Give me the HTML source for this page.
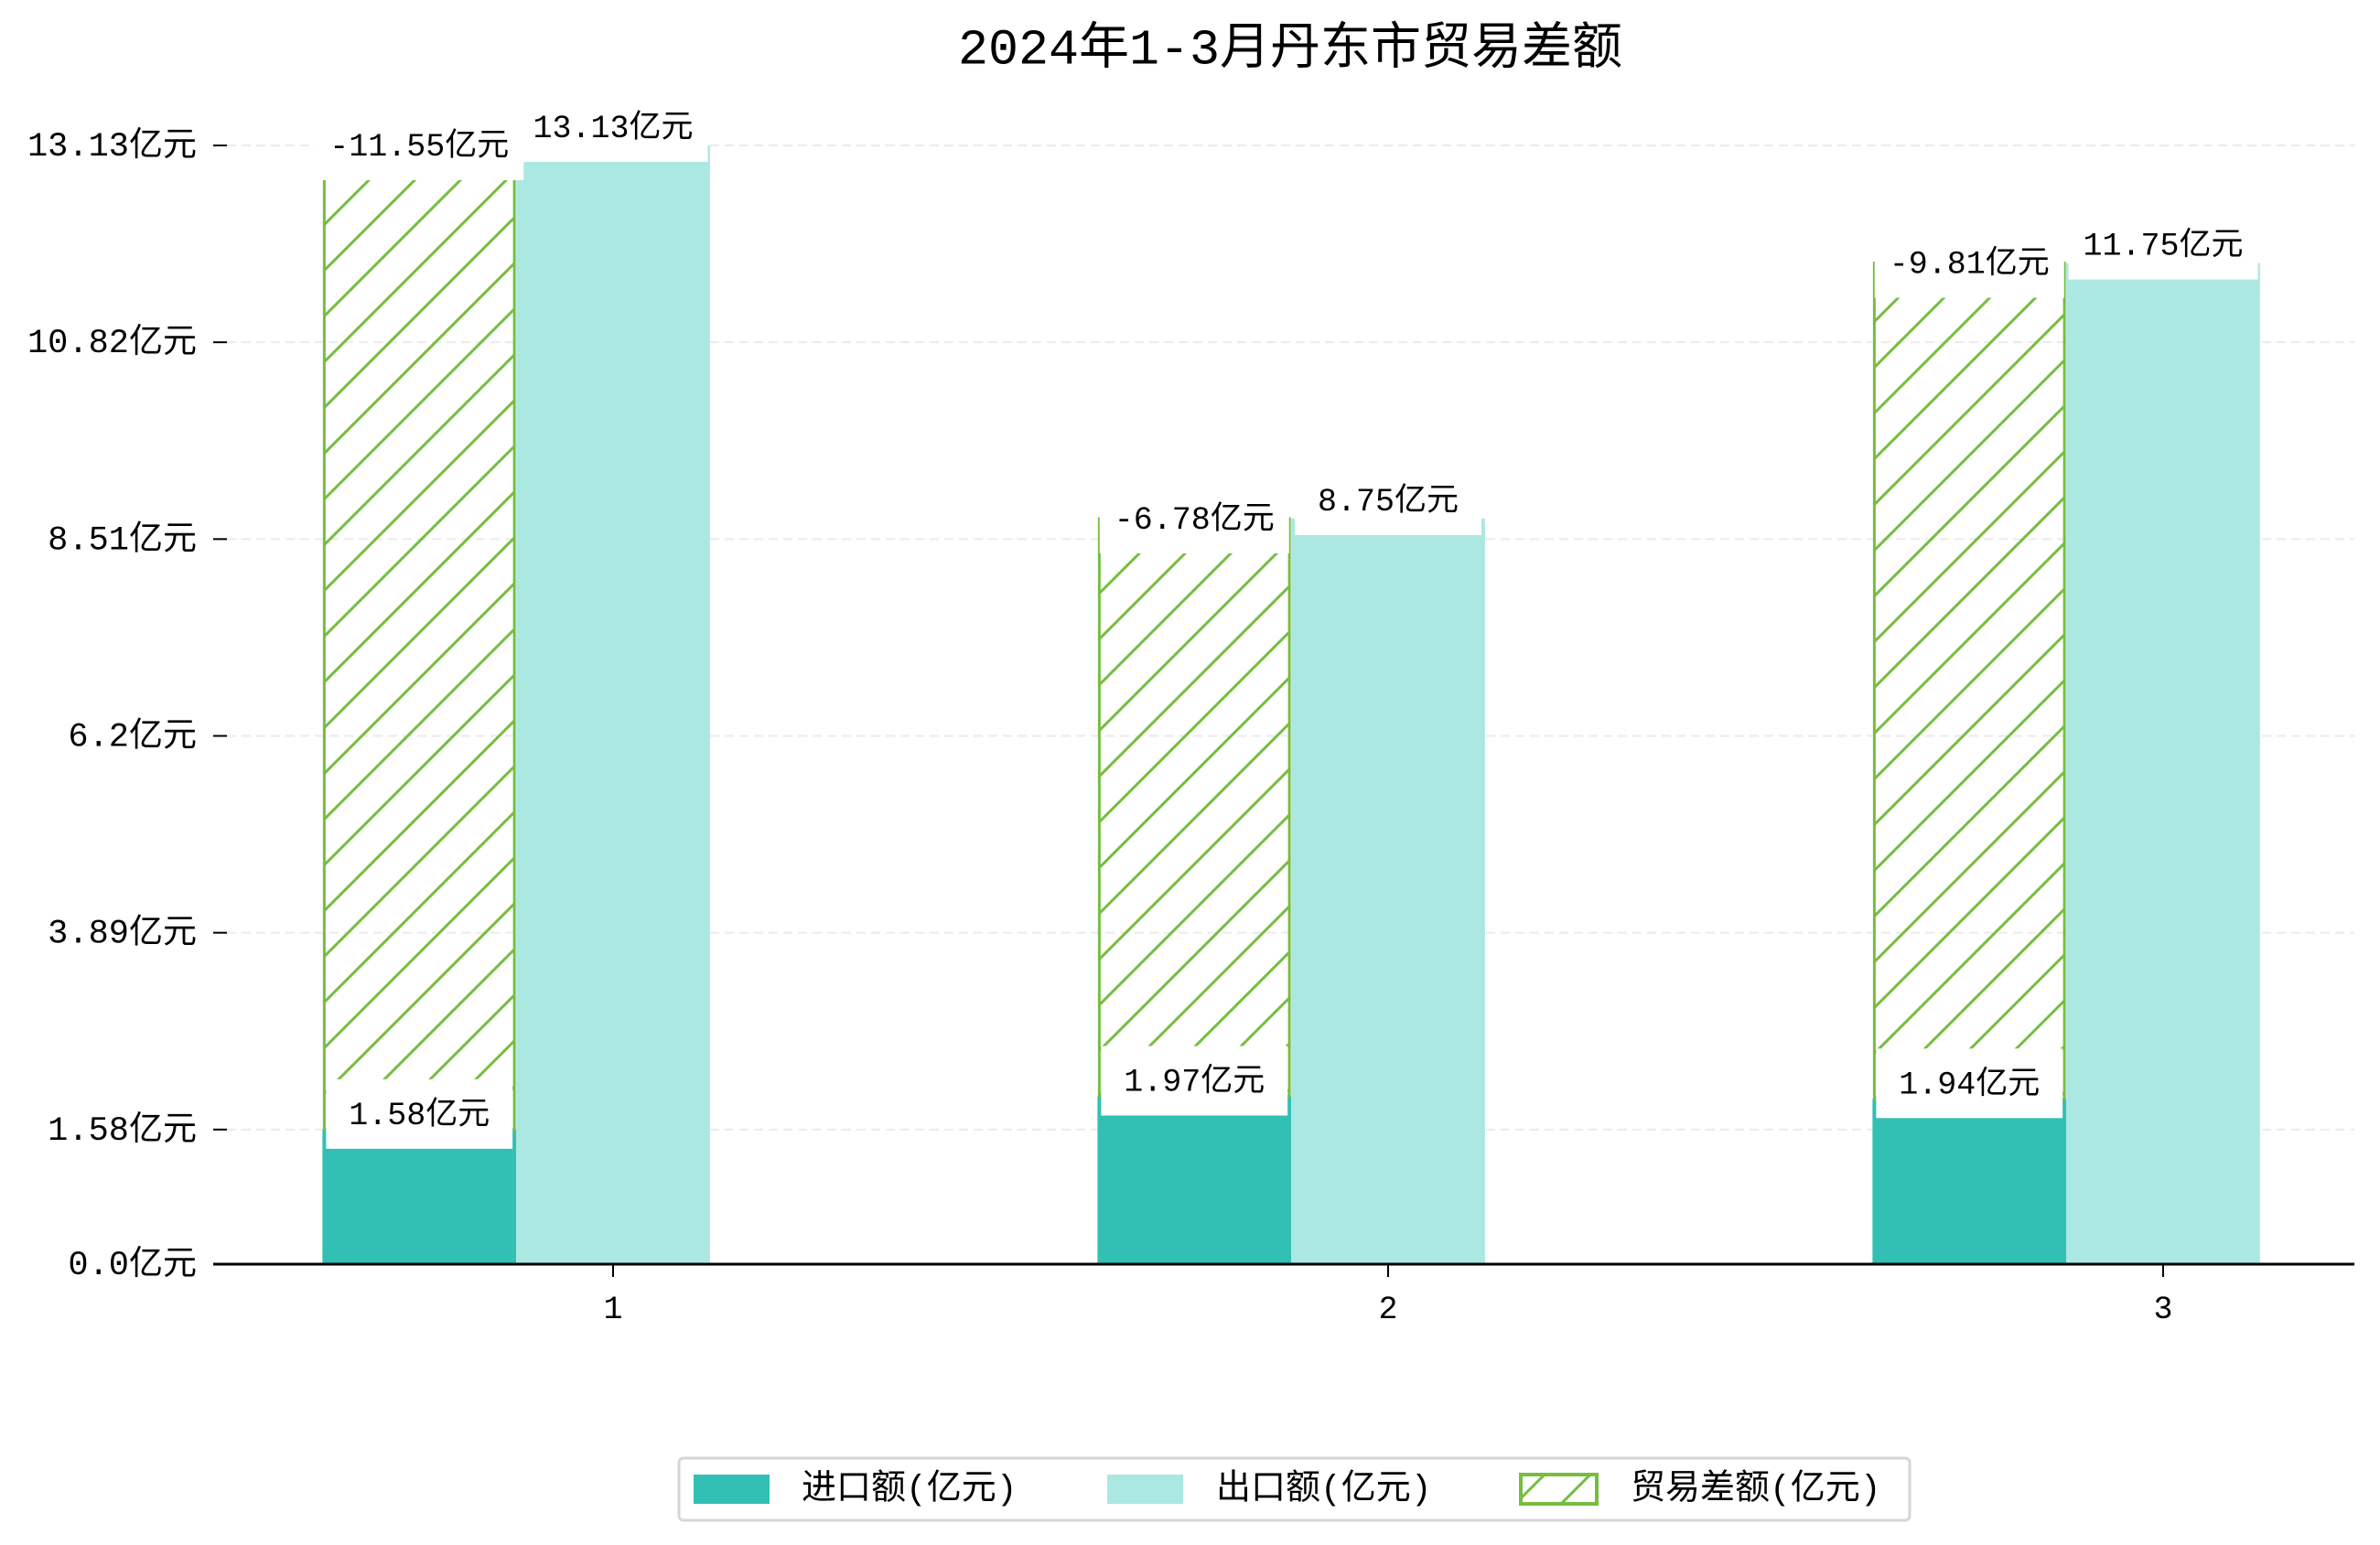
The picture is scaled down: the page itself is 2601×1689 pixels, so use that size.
<!DOCTYPE html>
<html><head><meta charset="utf-8">
<style>
html,body{margin:0;padding:0;background:#fff;}
svg{display:block;}
text{font-family:"Liberation Mono","Noto Sans CJK SC",monospace;fill:#000;}
</style></head>
<body>
<svg id="chart" width="2601" height="1689" viewBox="0 0 2601 1689" xmlns="http://www.w3.org/2000/svg">
<defs>
<pattern id="hatch" patternUnits="userSpaceOnUse" width="50" height="50">
<path d="M-10,10 L10,-10 M0,50 L50,0 M40,60 L60,40" stroke="#76bd41" stroke-width="3"/>
</pattern>
</defs>
<text x="1410" y="55" font-size="55" text-anchor="middle" dominant-baseline="central">2024年1-3月丹东市贸易差额</text>
<g id="grid"></g>
<g id="bars"></g>
<g id="labels"></g>
<g id="axes"></g>
<g>
<rect x="742" y="1594" width="1345" height="68" rx="5" fill="#fff" stroke="#d6d6d6" stroke-width="3"/>
<rect x="758" y="1612" width="83" height="32" fill="#31c0b3"/>
<text x="876" y="1629" font-size="38" dominant-baseline="central">进口额(亿元)</text>
<rect x="1210" y="1612" width="83" height="32" fill="#abe8e2"/>
<text x="1329" y="1629" font-size="38" dominant-baseline="central">出口额(亿元)</text>
<rect x="1662" y="1612" width="83" height="32" fill="url(#hatch)" stroke="#76bd41" stroke-width="4"/>
<text x="1782" y="1629" font-size="38" dominant-baseline="central">贸易差额(亿元)</text>
</g>
</svg>
<script>
const categories = ["1", "2", "3"];
const importValues = [1.58, 1.97, 1.94];
const exportValues = [13.13, 8.75, 11.75];
const balanceValues = [-11.55, -6.78, -9.81];
const yTickValues = [0, 1.58, 3.89, 6.2, 8.51, 10.82, 13.13];
const yTickLabels = ["0.0亿元", "1.58亿元", "3.89亿元", "6.2亿元", "8.51亿元", "10.82亿元", "13.13亿元"];

const NS = "http://www.w3.org/2000/svg";
const X0 = 233, X1 = 2573, Y0 = 1382, YTOP = 159, VMAX = 13.13;
const firstX = 670, stepX = 847;
function xScale(i){ return firstX + i*stepX; }
function yScale(v){ return Y0 - (v/VMAX)*(Y0-YTOP); }
const barW = 0.25*stepX;
function mk(tag, attrs, parent){
  const el = document.createElementNS(NS, tag);
  for (const k in attrs) el.setAttribute(k, attrs[k]);
  parent.appendChild(el);
  return el;
}
const grid = document.getElementById('grid');
const bars = document.getElementById('bars');
const labels = document.getElementById('labels');
const axes = document.getElementById('axes');

yTickValues.forEach((v, i) => {
  const y = yScale(v);
  if (v > 0) {
    const g = mk('line', {x1:248, x2:X1, y1:y, y2:y, stroke:'#ebebeb', 'stroke-width':2, 'stroke-dasharray':'10,6'}, grid);
    
    
  }
  const t = mk('line', {x1:X0, x2:X0+15, y1:y, y2:y, stroke:'#000', 'stroke-width':2}, axes);
  
  
  const l = mk('text', {x:215, y:y+2, 'font-size':37, 'text-anchor':'end', 'dominant-baseline':'central'}, axes);
  l.textContent = yTickLabels[i];
  
  
});
const base = mk('line', {x1:X0, x2:X1, y1:Y0, y2:Y0, stroke:'#000', 'stroke-width':3}, axes);



function labelBox(txt, cx, cy, name){
  let w = txt.replace(/[亿元]/g,'').length*0.6*35 + 2*35 + 32;
  w = Math.max(w, barW - 8);
  const r = mk('rect', {x:cx-w/2, y:cy-40, width:w, height:76, fill:'#fff'}, labels);
  
  
  const t = mk('text', {x:cx, y:cy, 'font-size':35, 'text-anchor':'middle', 'dominant-baseline':'central'}, labels);
  t.textContent = txt;
  
  
}

categories.forEach((c, i) => {
  const xc = xScale(i);
  const xi = xc - 0.25*stepX;
  const imp = importValues[i], exp = exportValues[i], bal = balanceValues[i];
  const b1 = mk('rect', {x:xi-barW/2, y:yScale(imp), width:barW, height:Y0-yScale(imp), fill:'#31c0b3'}, bars);
  
  
  const b2 = mk('rect', {x:xc-barW/2, y:yScale(exp), width:barW, height:Y0-yScale(exp), fill:'#abe8e2'}, bars);
  
  
  const top = imp + Math.abs(bal);
  const b3 = mk('rect', {x:xi-barW/2+2, y:yScale(top), width:barW-4, height:yScale(imp)-yScale(top), fill:'url(#hatch)', stroke:'#76bd41', 'stroke-width':3}, bars);
  
  
  const tk = mk('line', {x1:xc, x2:xc, y1:Y0, y2:Y0+14, stroke:'#000', 'stroke-width':2}, axes);
  
  
  const xl = mk('text', {x:xc, y:1432, 'font-size':35, 'text-anchor':'middle', 'dominant-baseline':'central'}, axes);
  xl.textContent = c;
  
  
});
categories.forEach((c, i) => {
  const xc = xScale(i), xi = xc - 0.25*stepX;
  labelBox(exportValues[i] + '亿元', xc, yScale(exportValues[i]) - 18, 'export-value');
  labelBox(balanceValues[i] + '亿元', xi, yScale(importValues[i] + Math.abs(balanceValues[i])) + 2, 'balance-value');
  labelBox(importValues[i] + '亿元', xi, yScale(importValues[i]) - 15, 'import-value');
});
</script>
</body></html>
